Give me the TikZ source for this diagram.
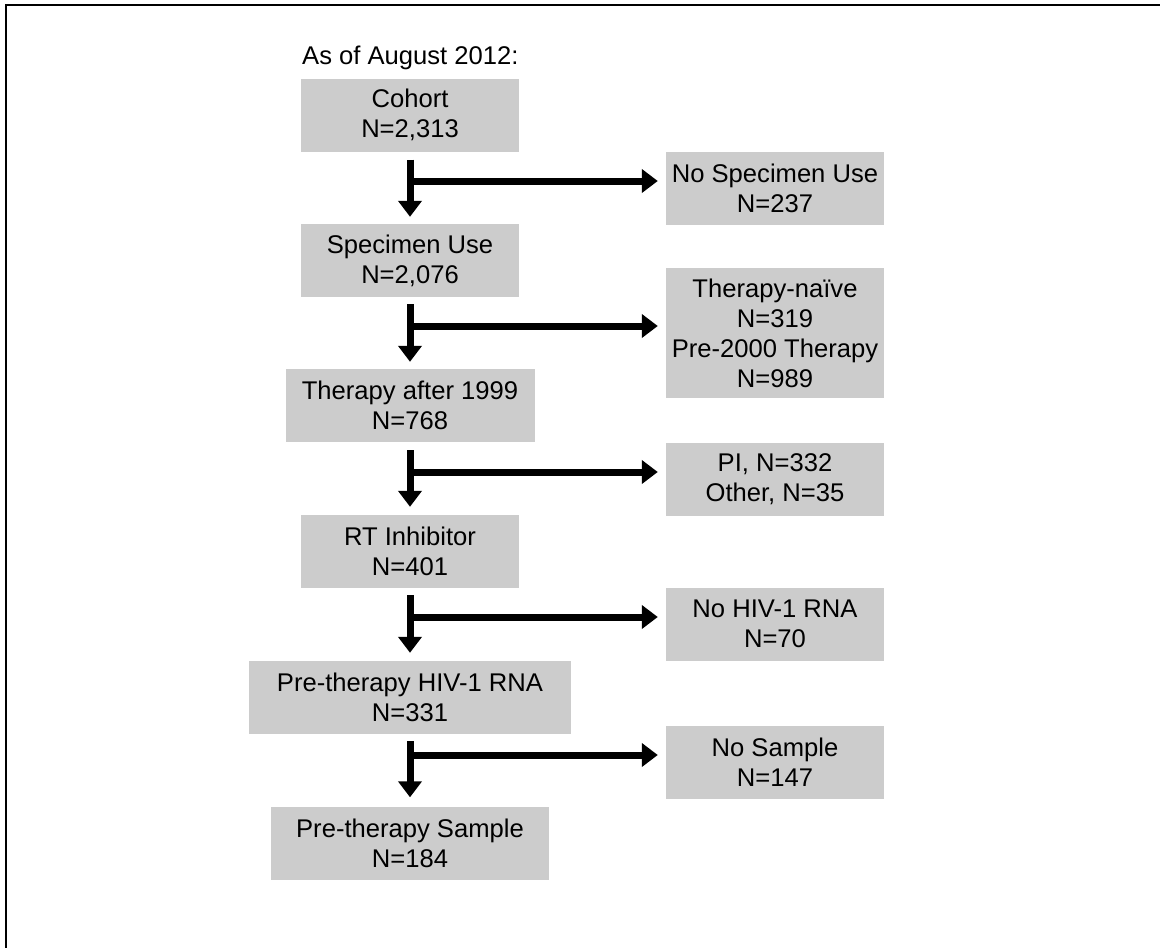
\documentclass[tikz,border=0pt]{standalone}
\usepackage{fontspec}
\setmainfont{Liberation Sans}
\usetikzlibrary{arrows.meta}
\definecolor{boxgray}{RGB}{204,204,204}
\begin{document}
\begin{tikzpicture}[x=1pt,y=-1pt,
  box/.style={fill=boxgray, draw=none, inner sep=0pt, align=center,
    font=\fontsize{25.6}{30}\selectfont, text=black},
  lbox/.style={box, minimum height=73pt},
  flow/.style={line width=7pt, -{Triangle[length=16pt,width=23pt]}},
  label/.style={font=\fontsize{25.6}{30}\selectfont, inner sep=0pt}]
\useasboundingbox (0,0) rectangle (1160,948);
\fill[white] (0,0) rectangle (1160,948);
\draw[line width=2pt] (5.7,948) -- (5.7,5) -- (1160,5);

\node[label, anchor=base west] (title) at (302,64) {As of August 2012:};

\node[lbox, minimum width=218pt] (cohort)  at (410,115)   {Cohort\\N=2,313};
\node[lbox, minimum width=218pt] (spec)    at (410,260.5) {Specimen Use\\N=2,076};
\node[lbox, minimum width=249pt] (ther)    at (410,405.5) {Therapy after 1999\\N=768};
\node[lbox, minimum width=218pt] (rt)      at (410,551.5) {RT Inhibitor\\N=401};
\node[lbox, minimum width=322pt] (prehiv)  at (410,697.5) {Pre-therapy HIV-1 RNA\\N=331};
\node[lbox, minimum width=278pt] (presamp) at (410,843)   {Pre-therapy Sample\\N=184};

\node[lbox, minimum width=218pt] (nospec) at (775,188)   {No Specimen Use\\N=237};
\node[box, minimum width=218pt, minimum height=130pt] (naive) at (775,333)
  {Therapy-na\"ive\\N=319\\Pre-2000 Therapy\\N=989};
\node[lbox, minimum width=218pt] (pi)     at (775,479)   {PI, N=332\\Other, N=35};
\node[lbox, minimum width=218pt] (nohiv)  at (775,624)   {No HIV-1 RNA\\N=70};
\node[lbox, minimum width=218pt] (nosamp) at (775,762.5) {No Sample\\N=147};

\coordinate (b1) at (410,181);
\coordinate (b2) at (410,326);
\coordinate (b3) at (410,472);
\coordinate (b4) at (410,617);
\coordinate (b5) at (410,755);

\draw[flow, shorten <=8pt, shorten >=7pt] (cohort.south) -- (spec.north);
\draw[flow, shorten <=7pt, shorten >=7pt] (spec.south) -- (ther.north);
\draw[flow, shorten <=8pt, shorten >=8pt] (ther.south) -- (rt.north);
\draw[flow, shorten <=7pt, shorten >=8pt] (rt.south) -- (prehiv.north);
\draw[flow, shorten <=7pt, shorten >=9pt] (prehiv.south) -- (presamp.north);

\draw[flow, shorten >=8pt] (b1) -- (b1 -| nospec.west);
\draw[flow, shorten >=8pt] (b2) -- (b2 -| naive.west);
\draw[flow, shorten >=8pt] (b3) -- (b3 -| pi.west);
\draw[flow, shorten >=8pt] (b4) -- (b4 -| nohiv.west);
\draw[flow, shorten >=8pt] (b5) -- (b5 -| nosamp.west);
\end{tikzpicture}
\end{document}
